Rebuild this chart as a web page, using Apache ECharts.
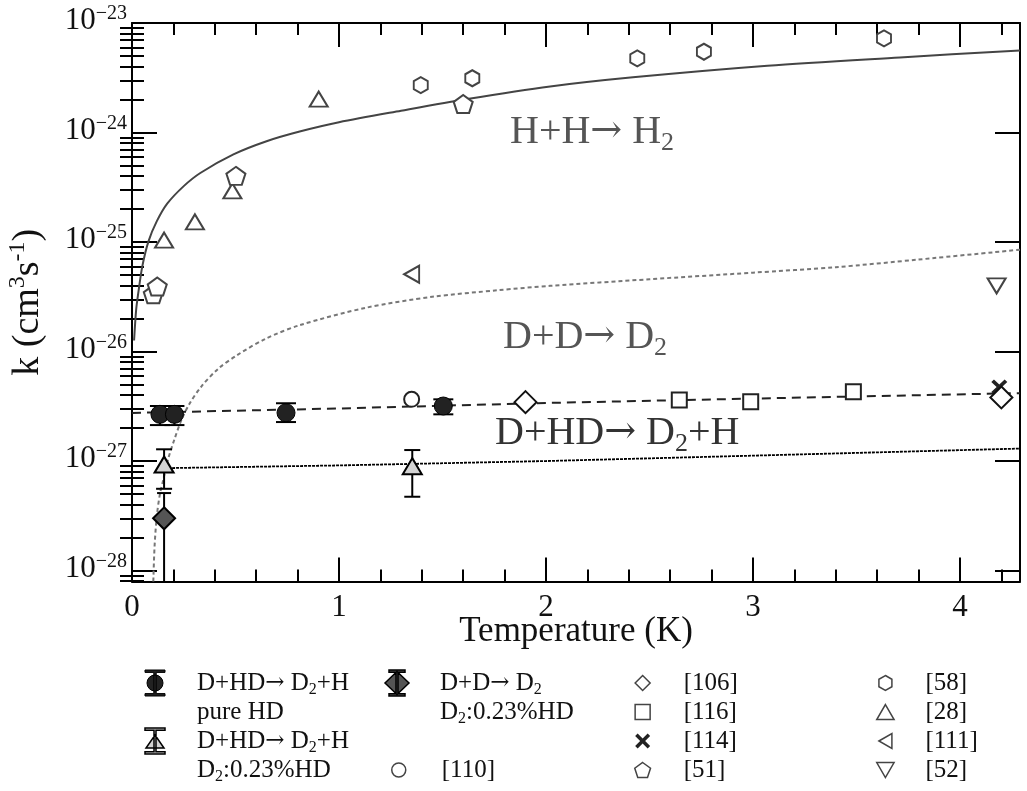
<!DOCTYPE html>
<html><head><meta charset="utf-8">
<script src="https://cdn.jsdelivr.net/npm/echarts@6/dist/echarts.min.js"></script>
<style>html,body{margin:0;padding:0;background:#fff}#c{width:1027px;height:791px}</style>
</head><body><div id="c"></div><script>
const FONT = 'Liberation Serif, "Times New Roman", serif';
const ARROW_FONT = '"DejaVu Serif", serif';

// ---------------- data (k in cm^3 s^-1, T in K) ----------------
// H + H -> H2 theory curve
const hhT = [0.01, 0.02, 0.03, 0.05, 0.08, 0.12, 0.17, 0.25, 0.33, 0.49, 0.65, 0.81, 1.0, 1.3, 1.62, 2.02, 2.42, 3.07, 3.71, 4.29];
const hhK = [1.26e-26, 2.40e-26, 3.39e-26, 6.03e-26, 1.02e-25, 1.55e-25, 2.24e-25, 3.24e-25, 4.27e-25, 6.31e-25, 8.32e-25, 1.02e-24, 1.24e-24, 1.58e-24, 2.02e-24, 2.63e-24, 3.19e-24, 4.07e-24, 4.85e-24, 5.62e-24];
// D + D -> D2 theory curve
const ddT = [0.103, 0.109, 0.12, 0.135, 0.15, 0.175, 0.205, 0.24, 0.28, 0.335, 0.415, 0.51, 0.65, 0.81, 1.13, 1.45, 1.77, 2.02, 2.5, 3.0, 3.4, 3.8, 4.29];
const ddK = [7.94e-29, 1.66e-28, 3.16e-28, 5.01e-28, 6.61e-28, 1.05e-27, 1.58e-27, 2.40e-27, 3.39e-27, 4.79e-27, 6.92e-27, 9.33e-27, 1.32e-26, 1.74e-26, 2.51e-26, 3.16e-26, 3.63e-26, 3.98e-26, 4.57e-26, 5.25e-26, 5.89e-26, 6.92e-26, 8.51e-26];
// D + HD -> D2 + H, pure HD fit
const fitPureT = [0, 1, 2, 3, 4.29];
const fitPureK = [2.75e-27, 3.02e-27, 3.39e-27, 3.72e-27, 4.17e-27];
// D + HD -> D2 + H, D2:0.23%HD fit
const fitD2T = [0.155, 1, 2, 3, 4.29];
const fitD2K = [8.61e-28, 9.12e-28, 1.0e-27, 1.12e-27, 1.30e-27];

// measured: D+HD -> D2+H pure HD
const pureT = [0.135, 0.205, 0.744, 1.504];
const pureK = [2.67e-27, 2.67e-27, 2.76e-27, 3.18e-27];
const pureLo = [2.13e-27, 2.13e-27, 2.27e-27, 2.67e-27];
const pureHi = [3.18e-27, 3.18e-27, 3.37e-27, 3.66e-27];
// measured: D+HD -> D2+H in D2:0.23%HD
const d2T = [0.155, 1.354];
const d2K = [9.3e-28, 8.97e-28];
const d2Lo = [5.58e-28, 4.72e-28];
const d2Hi = [1.28e-27, 1.26e-27];
// measured: D+D -> D2 in D2:0.23%HD
const ddMT = [0.155];
const ddMK = [3.0e-28];
const ddMLo = [5e-29];
const ddMHi = [5.1e-28];
// literature
const r110T = [1.351], r110K = [3.66e-27];
const r106T = [1.901, 4.2], r106K = [3.45e-27, 3.81e-27];
const r116T = [2.644, 2.989, 3.485], r116K = [3.6e-27, 3.48e-27, 4.3e-27];
const r114T = [4.19], r114K = [4.75e-27];
const r51T = [0.103, 0.122, 0.502, 1.6], r51K = [3.33e-26, 3.92e-26, 4.02e-25, 1.82e-24];
const r58T = [1.395, 1.644, 2.441, 2.763, 3.633], r58K = [2.71e-24, 3.13e-24, 4.75e-24, 5.47e-24, 7.24e-24];
const r28T = [0.155, 0.304, 0.485, 0.902], r28K = [1.04e-25, 1.53e-25, 2.93e-25, 2.02e-24];
const r111T = [1.351], r111K = [5.08e-26];
const r52T = [4.177], r52K = [3.97e-26];

// axes
const X_MIN = 0, X_MAX = 4.29;
const Y_MIN_EXP = -28.1, Y_MAX_EXP = -23;
const yDecades = [-28, -27, -26, -25, -24, -23];
const yMantissas = [2, 3, 4, 5, 6, 7, 8, 9];

// ---------------- helpers ----------------
const L = v => Math.log10(v);
const pts = (T, K) => T.map((t, i) => [t, L(K[i])]);
const yMinor = [];
[-29, -28, -27, -26, -25, -24].forEach(d => yMantissas.forEach(m => {
  const v = d + Math.log10(m);
  if (v > Y_MIN_EXP && v < Y_MAX_EXP) yMinor.push(v);
}));

const P_CIRCLE = 'path://M1,0A1,1 0 1 1 -1,0A1,1 0 1 1 1,0Z';
const P_DIAMOND = 'path://M0,-1L1,0L0,1L-1,0Z';
const P_SQUARE = 'path://M0,0H1V1H0Z';
const P_X = 'path://M0,1L1,0L3,2L5,0L6,1L4,3L6,5L5,6L3,4L1,6L0,5L2,3Z';
const P_PENT = 'path://M0,-1L0.951,-0.309L0.588,0.809L-0.588,0.809L-0.951,-0.309Z';
const P_HEX = 'path://M0,-1L0.866,-0.5L0.866,0.5L0,1L-0.866,0.5L-0.866,-0.5Z';
const P_TRI = 'path://M0.5,0L1,0.866L0,0.866Z';
const P_LTRI = 'path://M0,0.5L0.866,0L0.866,1Z';
const P_DTRI = 'path://M0,0H1L0.5,0.866Z';
const ICON_CIRCLE_EB = 'path://M0,0H20V2.4H11.2V23.6H20V26H0V23.6H8.8V2.4H0Z M10,5A8,8 0 1 1 10,21A8,8 0 1 1 10,5Z';
const ICON_TRI_EB = 'path://M0,0H20V2.2H11V23.8H20V26H0V23.8H9V2.2H0Z M10,7L19,20H1Z';
const ICON_DIA_EB = 'path://M4,0H20V2.2H13V23.8H20V26H4V23.8H11V2.2H4Z M12,1.5L24,13L12,24.5L0,13Z';

function errorBars(T, lo, hi, cap) {
  return {
    type: 'custom', silent: true, z: 3,
    data: T.map((t, i) => [t, L(lo[i]), L(hi[i])]),
    encode: { x: 0, y: [1, 2] },
    renderItem: (params, api) => {
      const x = api.value(0), loV = api.value(1), hiV = api.value(2);
      const top = api.coord([x, hiV]);
      const bot = api.coord([x, Math.max(loV, Y_MIN_EXP)]);
      const st = { stroke: '#000', lineWidth: 2 };
      const ch = [
        { type: 'line', shape: { x1: top[0], y1: top[1], x2: bot[0], y2: bot[1] }, style: st },
        { type: 'line', shape: { x1: top[0] - cap / 2, y1: top[1], x2: top[0] + cap / 2, y2: top[1] }, style: st }
      ];
      if (loV >= Y_MIN_EXP) ch.push({ type: 'line', shape: { x1: bot[0] - cap / 2, y1: bot[1], x2: bot[0] + cap / 2, y2: bot[1] }, style: st });
      return { type: 'group', children: ch };
    }
  };
}
function line(T, K, color, type, width, smooth) {
  return { type: 'line', data: pts(T, K), symbol: 'none', silent: true, z: 2,
    smooth: smooth || false,
    lineStyle: { color: color, type: type, width: width }, emphasis: { disabled: true } };
}
function scat(name, T, K, symbol, size, fill, stroke, bw) {
  return { name: name, type: 'scatter', data: pts(T, K), symbol: symbol, symbolSize: size, z: 4,
    itemStyle: { color: fill, borderColor: stroke, borderWidth: bw, opacity: 1 }, emphasis: { disabled: true } };
}

const LEG_TEXT = {
  pureHD: 'D+HD{a|→} D{s|2}+H', pureHD2: 'pure HD',
  d2HD: 'D+HD{a|→} D{s|2}+H', d2HD2: 'D{s|2}:0.23%HD',
  dd: 'D+D{a|→} D{s|2}', dd2: 'D{s|2}:0.23%HD',
  r110: '[110]', r106: '[106]', r116: '[116]', r114: '[114]', r51: '[51]',
  r58: '[58]', r28: '[28]', r111: '[111]', r52: '[52]'
};
const legendBase = {
  orient: 'vertical', padding: 0, itemGap: 0, selectedMode: false,
  formatter: n => LEG_TEXT[n],
  textStyle: { fontFamily: FONT, fontSize: 25, color: '#111', lineHeight: 29,
    rich: { s: { fontFamily: FONT, fontSize: 16, lineHeight: 16, verticalAlign: 'bottom', color: '#111' },
            a: { fontFamily: ARROW_FONT, fontSize: 23, lineHeight: 29, color: '#111' } } }
};
const openStyle = { color: '#fff', borderColor: '#444', borderWidth: 1.5 };

const yAxisBase = {
  type: 'value', min: Y_MIN_EXP, max: Y_MAX_EXP, splitLine: { show: false },
  axisLine: { show: true, onZero: false, lineStyle: { color: '#000', width: 2 } }
};
const xAxisBase = {
  type: 'value', min: X_MIN, max: X_MAX, interval: 1, splitLine: { show: false },
  axisLine: { show: true, onZero: false, lineStyle: { color: '#000', width: 2 } },
  axisTick: { show: true, inside: true, length: 24, lineStyle: { color: '#000', width: 2 } },
  minorTick: { show: true, splitNumber: 5, length: 12, lineStyle: { color: '#000', width: 2 } }
};
const annotRich = (fill) => ({
  s: { fontFamily: FONT, fontSize: 26, lineHeight: 28, verticalAlign: 'bottom', fill: fill },
  a: { fontFamily: ARROW_FONT, fontSize: 38, lineHeight: 48, fill: fill }
});

const option = {
  animation: false,
  backgroundColor: '#fff',
  grid: { left: 132, right: 7, top: 23, bottom: 209.5, outerBoundsMode: 'none' },
  xAxis: [
    Object.assign({}, xAxisBase, {
      position: 'bottom', name: 'Temperature (K)', nameLocation: 'middle', nameGap: 33, nameMoveOverlap: false,
      nameTextStyle: { fontFamily: FONT, fontSize: 35, color: '#111' },
      axisLabel: { show: true, showMaxLabel: false, margin: 11, fontFamily: FONT, fontSize: 31, color: '#111',
        formatter: v => (Math.abs(v - Math.round(v)) < 1e-9 ? String(Math.round(v)) : '') }
    }),
    Object.assign({}, xAxisBase, { position: 'top', axisLabel: { show: false } })
  ],
  yAxis: [
    Object.assign({}, yAxisBase, {
      position: 'left', name: 'k (cm{p|3}s{p|-1})', nameLocation: 'middle', nameGap: 82, nameRotate: 90, nameMoveOverlap: false,
      nameTextStyle: { fontFamily: FONT, fontSize: 38, color: '#111', lineHeight: 44,
        rich: { p: { fontFamily: FONT, fontSize: 24, lineHeight: 18, verticalAlign: 'top', color: '#111' } } },
      axisTick: { show: true, inside: true, length: 25, customValues: yDecades, lineStyle: { color: '#000', width: 2 } },
      axisLabel: { show: true, margin: 5, customValues: yDecades, padding: [0, 0, 4, 0],
        fontFamily: FONT, fontSize: 31, color: '#111',
        formatter: v => '{b|10}{s|−' + Math.round(-v) + '}',
        rich: { b: { fontFamily: FONT, fontSize: 31, lineHeight: 34, color: '#111' },
                s: { fontFamily: FONT, fontSize: 20, lineHeight: 14, verticalAlign: 'top', color: '#111' } } }
    }),
    Object.assign({}, yAxisBase, {
      position: 'left', axisLine: { show: false },
      axisTick: { show: true, inside: true, length: 12, customValues: yMinor, lineStyle: { color: '#000', width: 2 } },
      axisLabel: { show: false }
    }),
    Object.assign({}, yAxisBase, {
      position: 'right',
      axisTick: { show: true, inside: true, length: 25, customValues: yDecades, lineStyle: { color: '#000', width: 2 } },
      axisLabel: { show: false }
    }),
    Object.assign({}, yAxisBase, {
      position: 'right', axisLine: { show: false },
      axisTick: { show: true, inside: true, length: 12, customValues: yMinor, lineStyle: { color: '#000', width: 2 } },
      axisLabel: { show: false }
    })
  ],
  legend: [
    Object.assign({}, legendBase, { left: 118, top: 668.5, itemWidth: 74, itemHeight: 26, data: [
      { name: 'pureHD', icon: ICON_CIRCLE_EB, itemStyle: { color: '#222', borderColor: '#000', borderWidth: 1 } },
      { name: 'pureHD2', icon: 'none' },
      { name: 'd2HD', icon: ICON_TRI_EB, itemStyle: { color: '#d3d3d3', borderColor: '#000', borderWidth: 1.5 } },
      { name: 'd2HD2', icon: 'none' }
    ] }),
    Object.assign({}, legendBase, { left: 359, top: 668.5, itemWidth: 76, itemHeight: 26, data: [
      { name: 'dd', icon: ICON_DIA_EB, itemStyle: { color: '#555', borderColor: '#000', borderWidth: 1.5 } },
      { name: 'dd2', icon: 'none' }
    ] }),
    Object.assign({}, legendBase, { left: 391, top: 755.5, itemWidth: 76, itemHeight: 14, data: [
      { name: 'r110', icon: P_CIRCLE, itemStyle: openStyle }
    ] }),
    Object.assign({}, legendBase, { left: 634, top: 668.5, itemWidth: 72, itemHeight: 15, data: [
      { name: 'r106', icon: P_DIAMOND, itemStyle: openStyle },
      { name: 'r116', icon: P_SQUARE, itemStyle: openStyle },
      { name: 'r114', icon: P_X, itemStyle: { color: '#222', borderColor: '#222', borderWidth: 0 } },
      { name: 'r51', icon: P_PENT, itemStyle: openStyle }
    ] }),
    Object.assign({}, legendBase, { left: 876, top: 668.5, itemWidth: 70, itemHeight: 15, data: [
      { name: 'r58', icon: P_HEX, itemStyle: openStyle },
      { name: 'r28', icon: P_TRI, itemStyle: openStyle },
      { name: 'r111', icon: P_LTRI, itemStyle: openStyle },
      { name: 'r52', icon: P_DTRI, itemStyle: openStyle }
    ] })
  ],
  graphic: [
    { type: 'text', x: 510, y: 132, z: 10, style: { text: 'H+H{a|→} H{s|2}', fontFamily: FONT, fontSize: 40, lineHeight: 48, fill: '#555', verticalAlign: 'middle', rich: annotRich('#555') } },
    { type: 'text', x: 503, y: 337, z: 10, style: { text: 'D+D{a|→} D{s|2}', fontFamily: FONT, fontSize: 40, lineHeight: 48, fill: '#555', verticalAlign: 'middle', rich: annotRich('#555') } },
    { type: 'text', x: 495, y: 433, z: 10, style: { text: 'D+HD{a|→} D{s|2}+H', fontFamily: FONT, fontSize: 40, lineHeight: 48, fill: '#333', verticalAlign: 'middle', rich: annotRich('#333') } }
  ],
  series: [
    line(hhT, hhK, '#444', 'solid', 2, 0.3),
    line(ddT, ddK, '#777', [4, 3], 2, 0.3),
    line(fitPureT, fitPureK, '#222', [9, 6], 2),
    line(fitD2T, fitD2K, '#000', [3, 1], 1.8),
    errorBars(pureT, pureLo, pureHi, 20),
    errorBars(d2T, d2Lo, d2Hi, 16),
    errorBars(ddMT, ddMLo, ddMHi, 14),
    { name: 'pureHD2', type: 'scatter', data: [] },
    { name: 'd2HD2', type: 'scatter', data: [] },
    { name: 'dd2', type: 'scatter', data: [] },
    scat('r28', r28T, r28K, P_TRI, [18, 15], '#fff', '#444', 2),
    scat('r51', r51T, r51K, P_PENT, [19, 18], '#fff', '#444', 2),
    scat('r58', r58T, r58K, P_HEX, [14, 16], '#fff', '#444', 2),
    scat('r111', r111T, r111K, P_LTRI, [15, 17], '#fff', '#444', 2),
    scat('r52', r52T, r52K, P_DTRI, [18, 15], '#fff', '#444', 2),
    scat('r110', r110T, r110K, 'circle', 15, '#fff', '#222', 2),
    scat('r116', r116T, r116K, 'rect', 15, '#fff', '#222', 2),
    scat('r114', r114T, r114K, P_X, [16, 15], '#222', '#222', 0),
    scat('r106', r106T, r106K, 'diamond', 22, '#fff', '#111', 2),
    scat('pureHD', pureT, pureK, 'circle', 18, '#222', '#000', 1),
    scat('d2HD', d2T, d2K, 'triangle', [19, 16], '#d3d3d3', '#000', 2),
    scat('dd', ddMT, ddMK, 'diamond', 22, '#555', '#000', 2)
  ]
};
const chart = echarts.init(document.getElementById('c'), null, { renderer: 'canvas' });
chart.setOption(option);
</script></body></html>
